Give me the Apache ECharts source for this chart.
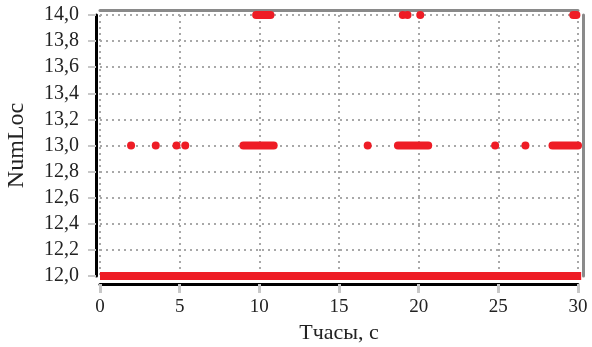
<!DOCTYPE html>
<html><head><meta charset="utf-8">
<script src="https://cdn.jsdelivr.net/npm/echarts@6/dist/echarts.min.js"></script>
<style>html,body{margin:0;padding:0;background:#fff}#c{width:592px;height:347px}</style>
</head><body><div id="c"></div>
<script>
// Levels of NumLoc
const levels = [12, 13, 14];
// continuous runs [start, end] (seconds) per level
const runs12 = [[0, 30.2]];
const runs13 = [[9.0, 10.9], [18.7, 20.6], [28.4, 30.0]];
const runs14 = [[9.8, 10.7], [29.7, 29.9]];
// isolated points (seconds) per level
const dots13 = [1.95, 3.5, 4.8, 5.35, 16.8, 24.8, 26.7];
const dots14 = [19.0, 19.3, 20.1];
// axis ticks
const xTicks = [0, 5, 10, 15, 20, 25, 30];
const yMin = 12, yMax = 14, yStep = 0.2;

const RED = '#ee1c25';
const FONT = 'Liberation Serif';

function runSeries(runs, lvl, cap) {
  return runs.map(r => ({
    type: 'line', data: [[r[0], lvl], [r[1], lvl]], symbol: 'none', clip: false,
    lineStyle: { color: RED, width: 8, cap: cap }, silent: true, z: 5
  }));
}

const series = []
  .concat(runSeries(runs12, levels[0], 'butt'))
  .concat(runSeries(runs13, levels[1], 'round'))
  .concat(runSeries(runs14, levels[2], 'round'))
  .concat([{
    type: 'scatter', symbolSize: 8, itemStyle: { color: RED, opacity: 1 }, z: 5,
    data: dots13.map(t => [t, levels[1]]).concat(dots14.map(t => [t, levels[2]]))
  }]);

const chart = echarts.init(document.getElementById('c'), null, { renderer: 'canvas' });
chart.setOption({
  animation: false,
  textStyle: { fontFamily: FONT },
  grid: { left: 100, right: 14, top: 15, bottom: 71, containLabel: false, outerBoundsMode: 'none' },
  xAxis: [{
    type: 'value', min: xTicks[0], max: xTicks[xTicks.length - 1], interval: 5,
    position: 'bottom', offset: 8,
    axisLine: { show: true, onZero: false, lineStyle: { color: '#000', width: 3 } },
    axisTick: { show: true, length: 9, lineStyle: { color: '#c8c8c8', width: 3 } },
    axisLabel: { margin: 14, fontFamily: FONT, fontSize: 19, color: '#222' },
    splitLine: { show: true, lineStyle: { color: '#a8a8a8', width: 2, type: [2, 4] } },
    name: 'Tчасы, с', nameLocation: 'middle', nameGap: 36,
    nameTextStyle: { fontFamily: FONT, fontSize: 22, color: '#222' }
  }, {
    type: 'value', min: xTicks[0], max: xTicks[xTicks.length - 1], interval: 5,
    position: 'top', offset: 5,
    axisLine: { show: true, onZero: false, lineStyle: { color: '#8a8a8a', width: 3 } },
    axisTick: { show: false }, axisLabel: { show: false }, splitLine: { show: false }
  }],
  yAxis: [{
    type: 'value', min: yMin, max: yMax, interval: yStep,
    position: 'left', offset: 4,
    axisLine: { show: true, onZero: false, lineStyle: { color: '#000', width: 3 } },
    axisTick: { show: true, length: 8, lineStyle: { color: '#c8c8c8', width: 2 } },
    axisLabel: { margin: 17, fontFamily: FONT, fontSize: 20, color: '#222',
      formatter: v => v.toFixed(1).replace('.', ',') },
    splitLine: { show: true, lineStyle: { color: '#a8a8a8', width: 2, type: [2, 4] } },
    name: 'NumLoc', nameLocation: 'middle', nameGap: 67, nameRotate: 90,
    nameTextStyle: { fontFamily: FONT, fontSize: 24, color: '#222' }
  }, {
    type: 'value', min: yMin, max: yMax, interval: yStep,
    position: 'right', offset: 5,
    axisLine: { show: true, onZero: false, lineStyle: { color: '#8a8a8a', width: 3 } },
    axisTick: { show: false }, axisLabel: { show: false }, splitLine: { show: false }
  }],
  series: series
});
</script></body></html>
